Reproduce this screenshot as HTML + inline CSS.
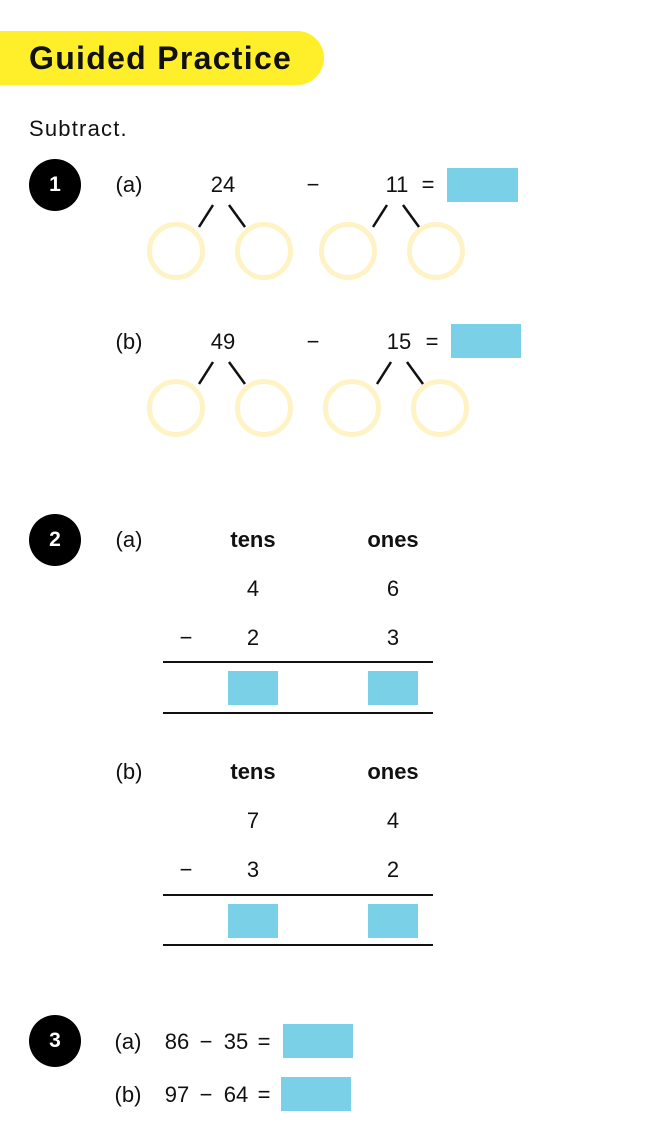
<!DOCTYPE html>
<html><head><meta charset="utf-8"><style>
body{margin:0;width:665px;height:1140px;background:#fff;position:relative;overflow:hidden;font-family:"Liberation Sans",sans-serif;color:#111}
.a{position:absolute;white-space:nowrap;line-height:1}
.c{position:absolute;transform:translate(-50%,-50%);white-space:nowrap;line-height:1;font-size:22px}
.n{position:absolute;width:52px;height:52px;border-radius:50%;background:#000;color:#fff;font-weight:bold;font-size:21px;display:flex;align-items:center;justify-content:center}
.b{position:absolute;background:#7ad0e6}
.r{position:absolute;width:48px;height:48px;border:5px solid #fdf3c4;border-radius:50%;transform:translate(-50%,-50%)}
.l{position:absolute;height:2px;background:#111}
</style></head><body>
<div style="position:absolute;left:0;top:31px;width:324px;height:54px;background:#ffee2a;border-radius:0 27px 27px 0"></div>
<div class="a" style="left:29px;top:42px;font-size:32px;font-weight:bold;letter-spacing:1.3px">Guided Practice</div>
<div class="a" style="left:29px;top:118px;font-size:22px;letter-spacing:1.2px">Subtract.</div>

<div class="n" style="left:29px;top:159px">1</div>
<div class="c" style="left:129px;top:185px">(a)</div>
<div class="c" style="left:223px;top:185px">24</div>
<div class="c" style="left:313px;top:185px">−</div>
<div class="c" style="left:397px;top:185px">11</div>
<div class="c" style="left:428px;top:185px">=</div>
<div class="b" style="left:447px;top:168px;width:71px;height:34px"></div>
<svg style="position:absolute;left:0;top:0" width="665" height="1140">
<g stroke="#111" stroke-width="2.5">
<line x1="213" y1="205" x2="199" y2="227"/><line x1="229" y1="205" x2="245" y2="227"/>
<line x1="387" y1="205" x2="373" y2="227"/><line x1="403" y1="205" x2="419" y2="227"/>
<line x1="213" y1="362" x2="199" y2="384"/><line x1="229" y1="362" x2="245" y2="384"/>
<line x1="391" y1="362" x2="377" y2="384"/><line x1="407" y1="362" x2="423" y2="384"/>
</g></svg>
<div class="r" style="left:176px;top:251px"></div><div class="r" style="left:264px;top:251px"></div>
<div class="r" style="left:348px;top:251px"></div><div class="r" style="left:436px;top:251px"></div>

<div class="c" style="left:129px;top:342px">(b)</div>
<div class="c" style="left:223px;top:342px">49</div>
<div class="c" style="left:313px;top:342px">−</div>
<div class="c" style="left:399px;top:342px">15</div>
<div class="c" style="left:432px;top:342px">=</div>
<div class="b" style="left:451px;top:324px;width:70px;height:34px"></div>
<div class="r" style="left:176px;top:408px"></div><div class="r" style="left:264px;top:408px"></div>
<div class="r" style="left:352px;top:408px"></div><div class="r" style="left:440px;top:408px"></div>

<div class="n" style="left:29px;top:514px">2</div>
<div class="c" style="left:129px;top:540px">(a)</div>
<div class="c" style="left:253px;top:540px;font-weight:bold">tens</div>
<div class="c" style="left:393px;top:540px;font-weight:bold">ones</div>
<div class="c" style="left:253px;top:589px">4</div><div class="c" style="left:393px;top:589px">6</div>
<div class="c" style="left:186px;top:638px">−</div>
<div class="c" style="left:253px;top:638px">2</div><div class="c" style="left:393px;top:638px">3</div>
<div class="l" style="left:163px;top:661px;width:270px"></div>
<div class="b" style="left:228px;top:671px;width:50px;height:34px"></div>
<div class="b" style="left:368px;top:671px;width:50px;height:34px"></div>
<div class="l" style="left:163px;top:712px;width:270px"></div>

<div class="c" style="left:129px;top:772px">(b)</div>
<div class="c" style="left:253px;top:772px;font-weight:bold">tens</div>
<div class="c" style="left:393px;top:772px;font-weight:bold">ones</div>
<div class="c" style="left:253px;top:821px">7</div><div class="c" style="left:393px;top:821px">4</div>
<div class="c" style="left:186px;top:870px">−</div>
<div class="c" style="left:253px;top:870px">3</div><div class="c" style="left:393px;top:870px">2</div>
<div class="l" style="left:163px;top:894px;width:270px"></div>
<div class="b" style="left:228px;top:904px;width:50px;height:34px"></div>
<div class="b" style="left:368px;top:904px;width:50px;height:34px"></div>
<div class="l" style="left:163px;top:944px;width:270px"></div>

<div class="n" style="left:29px;top:1015px">3</div>
<div class="c" style="left:128px;top:1042px">(a)</div>
<div class="c" style="left:177px;top:1042px">86</div>
<div class="c" style="left:206px;top:1042px">−</div>
<div class="c" style="left:236px;top:1042px">35</div>
<div class="c" style="left:264px;top:1042px">=</div>
<div class="b" style="left:283px;top:1024px;width:70px;height:34px"></div>
<div class="c" style="left:128px;top:1095px">(b)</div>
<div class="c" style="left:177px;top:1095px">97</div>
<div class="c" style="left:206px;top:1095px">−</div>
<div class="c" style="left:236px;top:1095px">64</div>
<div class="c" style="left:264px;top:1095px">=</div>
<div class="b" style="left:281px;top:1077px;width:70px;height:34px"></div>
</body></html>
